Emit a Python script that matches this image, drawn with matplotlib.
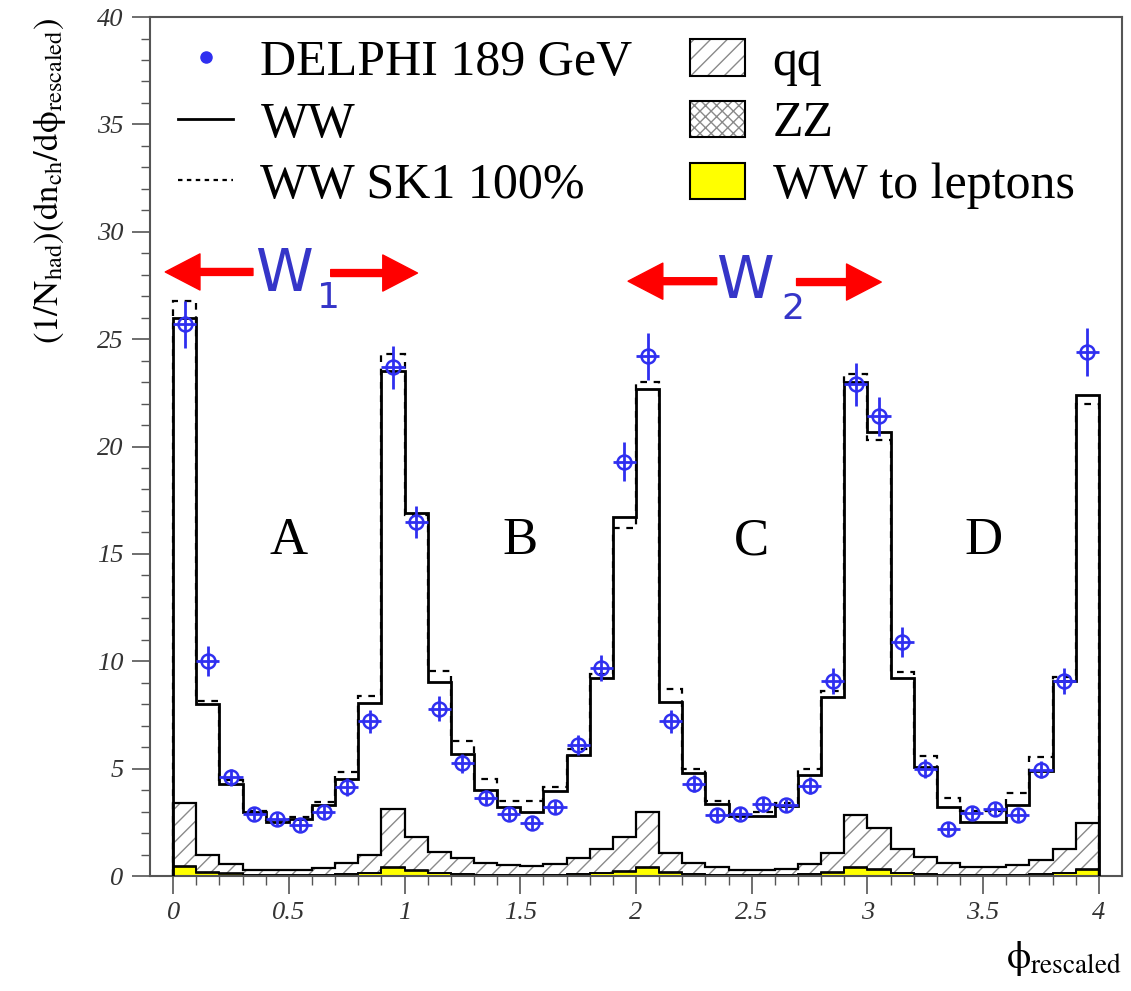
import numpy as np
import matplotlib
matplotlib.use('Agg')
import matplotlib.pyplot as plt
from matplotlib.lines import Line2D
from matplotlib.patches import Patch

plt.rcParams['font.family'] = ['Liberation Serif', 'DejaVu Serif']
plt.rcParams['mathtext.fontset'] = 'stix'
plt.rcParams['hatch.linewidth'] = 1.0

# 40 bins of 0.1 in phi_rescaled
bin_edges = np.linspace(0.0, 4.0, 41)
bin_centers = bin_edges[:-1] + 0.05

# DELPHI 189 GeV data
data_vals = [25.7, 10.0, 4.6, 2.9, 2.65, 2.4, 3.0, 4.15, 7.2, 23.7,
             16.5, 7.8, 5.25, 3.65, 2.9, 2.45, 3.2, 6.1, 9.7, 19.3,
             24.2, 7.2, 4.3, 2.85, 2.9, 3.35, 3.3, 4.2, 9.1, 22.9,
             21.4, 10.9, 5.0, 2.2, 2.95, 3.1, 2.85, 4.95, 9.1, 24.4]
data_err = [1.1, 0.7, 0.4, 0.3, 0.3, 0.3, 0.3, 0.4, 0.55, 1.0,
            0.75, 0.6, 0.45, 0.35, 0.3, 0.3, 0.3, 0.45, 0.6, 0.9,
            1.1, 0.55, 0.4, 0.3, 0.3, 0.35, 0.3, 0.4, 0.6, 1.0,
            0.9, 0.7, 0.45, 0.3, 0.3, 0.3, 0.3, 0.4, 0.6, 1.1]

# WW simulation (total) and WW with SK1 100% reconnection
ww_vals = [26.0, 8.0, 4.3, 3.0, 2.5, 2.65, 3.3, 4.5, 8.05, 23.5,
           16.9, 9.05, 5.7, 4.0, 3.2, 3.0, 3.95, 5.65, 9.2, 16.7,
           22.7, 8.1, 4.8, 3.35, 2.8, 2.8, 3.27, 4.7, 8.35, 23.0,
           20.7, 9.2, 5.1, 3.2, 2.5, 2.5, 3.3, 4.9, 9.1, 22.4]
sk1_vals = [26.8, 8.15, 4.45, 3.05, 2.6, 2.75, 3.45, 4.85, 8.4, 24.3,
            16.8, 9.55, 6.3, 4.5, 3.5, 3.5, 4.15, 5.9, 9.4, 16.2,
            23.0, 8.7, 5.0, 3.5, 2.9, 3.0, 3.4, 5.0, 8.6, 23.4,
            20.3, 9.5, 5.6, 3.65, 3.05, 3.05, 3.85, 5.55, 9.25, 22.0]

# backgrounds (stacked: leptons, ZZ, qq)
lep_vals = [0.40, 0.15, 0.10, 0.06, 0.05, 0.05, 0.06, 0.08, 0.12, 0.38,
            0.25, 0.12, 0.08, 0.06, 0.05, 0.05, 0.06, 0.08, 0.12, 0.20,
            0.38, 0.15, 0.08, 0.06, 0.05, 0.05, 0.06, 0.08, 0.15, 0.38,
            0.30, 0.12, 0.08, 0.06, 0.05, 0.05, 0.06, 0.08, 0.12, 0.28]
zz_vals = [0.06, 0.03, 0.02, 0.01, 0.01, 0.01, 0.01, 0.02, 0.03, 0.06,
           0.05, 0.03, 0.02, 0.01, 0.01, 0.01, 0.01, 0.02, 0.03, 0.04,
           0.06, 0.03, 0.02, 0.01, 0.01, 0.01, 0.01, 0.02, 0.03, 0.06,
           0.05, 0.03, 0.02, 0.01, 0.01, 0.01, 0.01, 0.02, 0.03, 0.05]
qq_vals = [2.94, 0.79, 0.43, 0.23, 0.22, 0.22, 0.31, 0.50, 0.82, 2.66,
           1.50, 0.97, 0.75, 0.56, 0.44, 0.39, 0.48, 0.75, 1.10, 1.56,
           2.56, 0.87, 0.50, 0.33, 0.24, 0.24, 0.28, 0.45, 0.87, 2.41,
           1.90, 1.10, 0.80, 0.53, 0.36, 0.36, 0.43, 0.65, 1.10, 2.12]

xtick_vals = [0, 0.5, 1, 1.5, 2, 2.5, 3, 3.5, 4]
xtick_labels = ['0', '0.5', '1', '1.5', '2', '2.5', '3', '3.5', '4']
ytick_vals = [0, 5, 10, 15, 20, 25, 30, 35, 40]
ytick_labels = ['0', '5', '10', '15', '20', '25', '30', '35', '40']

region_names = ['A', 'B', 'C', 'D']
region_x = [0.5, 1.5, 2.5, 3.5]

blue = '#2f2ff0'
wblue = '#3535c8'
frame = '#555555'

fig = plt.figure(figsize=(11.31, 9.91), dpi=100)
ax = fig.add_axes([0.1326, 0.1160, 0.8594, 0.8668])

lep = np.array(lep_vals)
zz = np.array(zz_vals)
qq = np.array(qq_vals)
zz_top = lep + zz
qq_top = zz_top + qq

# stacked backgrounds
ax.stairs(qq_top, bin_edges, baseline=zz_top, fill=True, facecolor='white',
          edgecolor='#8a8a8a', hatch='//', linewidth=0, zorder=1)
ax.stairs(zz_top, bin_edges, baseline=lep, fill=True, facecolor='white',
          edgecolor='#8a8a8a', hatch='xxx', linewidth=0, zorder=1)
ax.stairs(lep, bin_edges, baseline=0, fill=True, facecolor='#ffff00',
          linewidth=0, zorder=1)
ax.stairs(qq_top, bin_edges, baseline=0, color='black', lw=1.6, zorder=2)
ax.stairs(zz_top, bin_edges, baseline=None, color='black', lw=1.2, zorder=2)
ax.stairs(lep, bin_edges, baseline=None, color='black', lw=1.2, zorder=2)

# WW predictions
ax.stairs(sk1_vals, bin_edges, baseline=0, color='black', lw=1.6,
          linestyle=(0, (3, 3)), zorder=3)
ax.stairs(ww_vals, bin_edges, baseline=0, color='black', lw=2.0, zorder=3)

# data
ax.errorbar(bin_centers, data_vals, yerr=data_err, xerr=0.05, fmt='o',
            mfc='none', mec=blue, ms=10, mew=1.8, ecolor=blue,
            elinewidth=2.0, capsize=0, zorder=5)

for name, xr in zip(region_names, region_x):
    ax.text(xr, 15.6, name, fontsize=38, ha='center', va='center', zorder=6)

# W1 / W2 arrows
arrow_kw = dict(color='#ff0000', width=5, headwidth=26, headlength=25, shrink=0)
ax.annotate('', xy=(-0.034, 28.13), xytext=(0.345, 28.13), arrowprops=arrow_kw)
ax.annotate('', xy=(1.056, 28.08), xytext=(0.681, 28.08), arrowprops=arrow_kw)
ax.annotate('', xy=(1.966, 27.7), xytext=(2.349, 27.7), arrowprops=arrow_kw)
ax.annotate('', xy=(3.06, 27.66), xytext=(2.694, 27.66), arrowprops=arrow_kw)
ax.text(0.48, 28.0, 'W', color=wblue, fontsize=42, ha='center', va='center',
        family='DejaVu Sans')
ax.text(0.672, 26.9, '1', color=wblue, fontsize=26, ha='center', va='center',
        family='DejaVu Sans')
ax.text(2.47, 27.7, 'W', color=wblue, fontsize=42, ha='center', va='center',
        family='DejaVu Sans')
ax.text(2.676, 26.4, '2', color=wblue, fontsize=26, ha='center', va='center',
        family='DejaVu Sans')

ax.set_xlim(-0.1, 4.1)
ax.set_ylim(0, 40)
ax.set_xticks(xtick_vals, labels=xtick_labels, fontstyle='italic')
ax.set_yticks(ytick_vals, labels=ytick_labels, fontstyle='italic')
ax.set_xticks(np.arange(0, 4.01, 0.1), minor=True)
ax.set_yticks(np.arange(0, 41, 1), minor=True)
ax.tick_params(which='major', direction='out', length=13, width=1.2,
               color=frame, labelsize=19, labelcolor='#333333', pad=6)
ax.tick_params(which='minor', direction='out', length=6.5, width=1.0, color=frame)
for sp in ax.spines.values():
    sp.set_color(frame)
    sp.set_linewidth(1.5)

fig.text(50 / 1131, 1 - 18 / 991,
         r'$\mathrm{(1/N_{had})(dn_{ch}/d\phi_{rescaled})}$',
         rotation=90, ha='center', va='top', fontsize=25)
fig.text(1122 / 1131, 1 - 958 / 991, r'$\mathrm{\phi_{rescaled}}$',
         ha='right', va='center', fontsize=28)

handles = [
    Line2D([], [], marker='o', color=blue, ms=8, linestyle='none'),
    Line2D([], [], color='black', lw=2.0),
    Line2D([], [], color='black', lw=1.6, linestyle=(0, (2, 2))),
    (Patch(facecolor='white', edgecolor='#8a8a8a', hatch='//', lw=0),
     Patch(facecolor='none', edgecolor='black', lw=1.5)),
    (Patch(facecolor='white', edgecolor='#8a8a8a', hatch='xxx', lw=0),
     Patch(facecolor='none', edgecolor='black', lw=1.5)),
    Patch(facecolor='#ffff00', edgecolor='black', lw=1.5),
]
labels = ['DELPHI 189 GeV', 'WW', 'WW SK1 100%', 'qq', 'ZZ', 'WW to leptons']
ax.legend(handles, labels, ncol=2, loc='upper left',
          bbox_to_anchor=(178 / 1131, 1 - 39 / 991), bbox_transform=fig.transFigure,
          frameon=False, fontsize=36, handlelength=1.1, handleheight=0.75,
          handletextpad=0.55, columnspacing=1.15, labelspacing=0.3,
          borderpad=0, borderaxespad=0)

fig.savefig('out.png', dpi=100)
